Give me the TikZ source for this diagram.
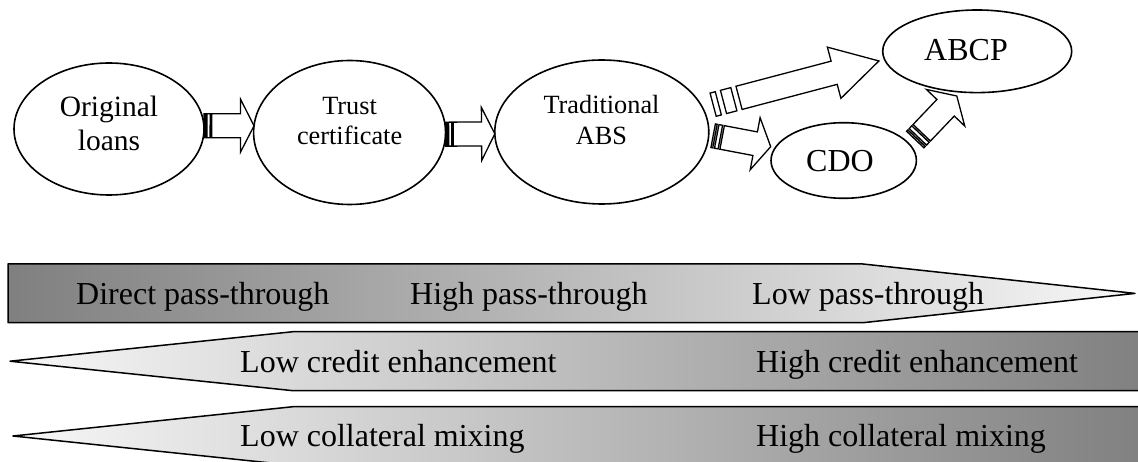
\documentclass[tikz,border=0pt]{standalone}
\usepackage{fontspec}
\setmainfont{Liberation Serif}
\usetikzlibrary{shapes.geometric,calc}
\definecolor{gDark}{gray}{0.5}
\definecolor{gMidA}{gray}{0.78}
\definecolor{gMidB}{gray}{0.81}
\definecolor{gLight}{gray}{0.97}
\tikzset{
  bubble/.style={ellipse, draw=black, line width=1.6pt, fill=white, inner sep=0pt, outer sep=0pt},
  bubtext/.style={align=center, inner sep=0pt},
  blockarrow/.style={draw=black, fill=white, line width=1.3pt, line join=miter},
  band/.style={draw=black, line width=1.5pt, line join=round},
  bandtext/.style={anchor=base west, inner sep=0pt, font=\fontsize{32}{38}\selectfont},
}
\newcommand{\StripeArrow}[2]{%
  \draw[blockarrow] let \p1=#1, \p2=#2,
    \n1={atan2(\y2-\y1,\x2-\x1)}, \n2={veclen(\x2-\x1,\y2-\y1)} in
    [shift={(\p1)}, rotate=\n1]
    (0,-12) -- ({\n2/32},-12) -- ({\n2/32},12) -- (0,12) -- cycle
    ({\n2/16},-12) -- ({\n2/8},-12) -- ({\n2/8},12) -- ({\n2/16},12) -- cycle
    ({5*\n2/32},-12) -- ({0.73*\n2},-12) -- ({0.73*\n2},-26.5) -- (\n2,0)
      -- ({0.73*\n2},26.5) -- ({0.73*\n2},12) -- ({5*\n2/32},12) -- cycle;}
\begin{document}
\begin{tikzpicture}[x=1pt,y=1pt]
\useasboundingbox (0,0) rectangle (1138,-462);

% ---- ellipses ----
\node[bubble, minimum width=190, minimum height=132] (ol) at (109,-129) {};
\node[bubble, minimum width=192, minimum height=144] (tc) at (349.6,-132.5) {};
\node[bubble, minimum width=214, minimum height=144] (abs) at (601.8,-132) {};
\node[bubble, minimum width=189, minimum height=82.6] (abcp) at (977.2,-51.3) {};
\node[bubble, minimum width=145.4, minimum height=75.6] (cdo) at (843.7,-160.5) {};

\node[bubtext, font=\fontsize{29.5}{33.3}\selectfont] (olt) at (109,-123.3) {Original\\loans};
\node[bubtext, font=\fontsize{26.3}{30}\selectfont] (tct) at (349.6,-120.6) {Trust\\certificate};
\node[bubtext, font=\fontsize{26.3}{31}\selectfont] (abst) at (601.5,-120.3) {Traditional\\ABS};
\node[bubtext, font=\fontsize{32}{38}\selectfont] (abcpt) at (966,-50.5) {ABCP};
\node[bubtext, font=\fontsize{32}{38}\selectfont] (cdot) at (840,-160.8) {CDO};

% ---- striped block arrows ----
\StripeArrow{(ol.2)}{(tc.176)}
\StripeArrow{(tc.-1)}{(abs.181)}
\StripeArrow{([shift={(11,2.3)}]abs.14)}{([xshift=-6.4]abcp.186)}
\StripeArrow{([xshift=4.5]abs.-2)}{([shift={(-4.9,0.6)}]cdo.169)}
\StripeArrow{([shift={(7.9,2.7)}]cdo.16)}{([shift={(-1.5,-4.2)}]abcp.245)}

% ---- bands ----
\begin{scope}
\clip (0,0) rectangle (1138,-462);
\draw[band, left color=gDark, middle color=gMidA, right color=gLight]
  (8,-264) -- (863,-264) -- (1135,-293.4) -- (863,-322.7) -- (8,-322.7) -- cycle;
\draw[band, left color=gLight, middle color=gMidB, right color=gDark]
  (1150,-331.7) -- (293,-331.7) -- (10,-361.2) -- (293,-390.7) -- (1150,-390.7) -- cycle;
\draw[band, left color=gLight, middle color=gMidB, right color=gDark]
  (1150,-406.7) -- (293,-406.7) -- (13,-436) -- (293,-465.3) -- (1150,-465.3) -- cycle;
\end{scope}

\node[bandtext] (b1a) at (76,-304.5) {Direct pass-through};
\node[bandtext] (b1b) at (410,-304.5) {High pass-through};
\node[bandtext] (b1c) at (752,-304.5) {Low pass-through};
\node[bandtext] (b2a) at (240,-372) {Low credit enhancement};
\node[bandtext] (b2b) at (756,-372) {High credit enhancement};
\node[bandtext] (b3a) at (240,-446) {Low collateral mixing};
\node[bandtext] (b3b) at (756,-446) {High collateral mixing};
\end{tikzpicture}
\end{document}
